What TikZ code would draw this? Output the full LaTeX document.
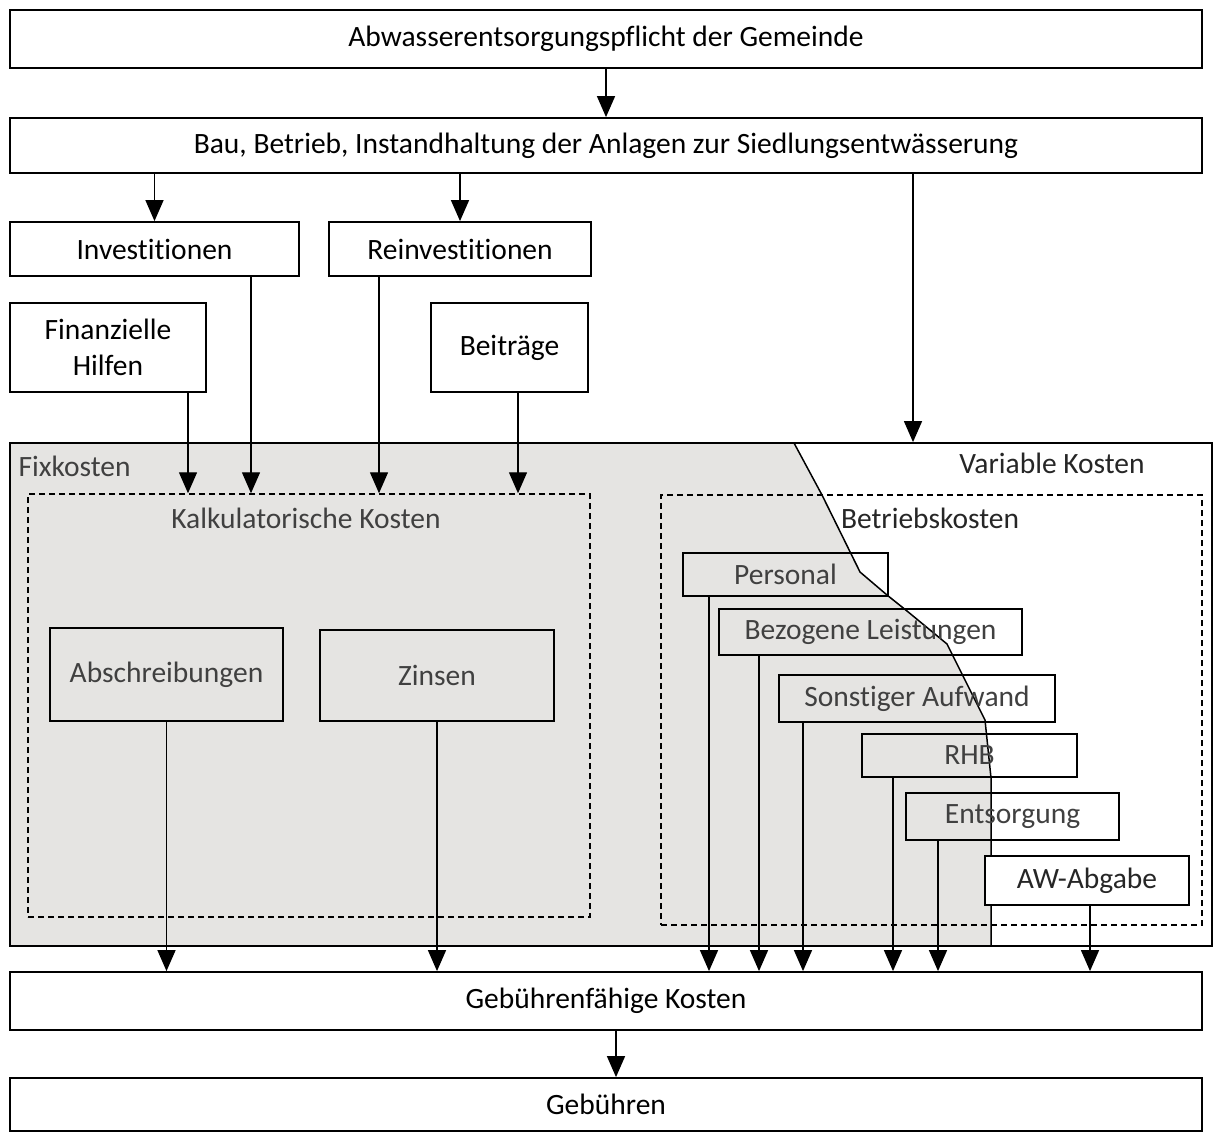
\documentclass[tikz,border=0pt]{standalone}
\usepackage{fontspec}
\setmainfont{Carlito}[RawFeature=-liga]
\usepackage{tikz}
\usetikzlibrary{positioning,arrows.meta}
\definecolor{fixgray}{RGB}{229, 228, 226}
\definecolor{textgray}{RGB}{64, 64, 64}
\tikzset{
    box/.style={rectangle, draw, line width=1.8pt, inner sep=0pt, align=center},
    wide box/.style={box, minimum width=1192pt},
    cost box/.style={box, text=textgray},
    group box/.style={rectangle, draw, dashed, line width=1.5pt, dash pattern=on 6pt off 4pt, inner sep=0pt},
    flow arrow/.style={-{Triangle[width=18pt,length=21pt]}, line width=1.4pt},
    group label/.style={text=textgray}
}

\begin{document}
\begin{tikzpicture}[x=1pt, y=-1pt, font=\fontsize{29.5}{36}\selectfont]
    \useasboundingbox (0,0) rectangle (1214,1133);

    % Obligation and construction
    \node[wide box, minimum height=58pt] (pflicht) at (606,39) {Abwasserentsorgungspflicht der Gemeinde};
    \node[wide box, minimum height=55pt] (bau) at (606,145.5) {Bau, Betrieb, Instandhaltung der Anlagen zur Siedlungsentwässerung};
    \draw[flow arrow] (pflicht) -- (bau);

    % Investments and funding
    \node[box, minimum width=289pt, minimum height=54pt] (invest) at (154.5,249) {Investitionen};
    \node[box, minimum width=262pt, minimum height=54pt] (reinvest) at (460,249) {Reinvestitionen};
    \node[box, minimum width=196pt, minimum height=89pt] (hilfen) at (108,347.5) {Finanzielle\\Hilfen};
    \node[box, minimum width=157pt, minimum height=89pt] (beitraege) at (509.5,347.5) {Beiträge};
    \draw[flow arrow] (bau.south -| invest.north) -- (invest.north);
    \draw[flow arrow] (bau.south -| reinvest.north) -- (reinvest.north);

    % Fixed cost area
    \fill[fixgray] (10,443) -- (794,443) -- (822,495) -- (860,572) -- (887,595) -- (907,611)
        -- (947,644) -- (985,720) -- (991,778) -- (991,946) -- (10,946) -- cycle;
    \draw[line width=1.5pt] (794,443) -- (822,495) -- (860,572) -- (887,595) -- (907,611)
        -- (947,644) -- (985,720) -- (991,778) -- (991,946);
    \node[box, minimum width=1202pt, minimum height=503pt] (kosten) at (611,694.5) {};
    \node[group label, anchor=west] (fix) at (15,466) {Fixkosten};
    \node[text=black!85] (variabel) at (1052,463) {Variable Kosten};
    \coordinate (varin) at (913,443);
    \draw[flow arrow] (bau.south -| varin) -- (kosten.north -| varin);

    % Imputed costs
    \node[group box, minimum width=562pt, minimum height=423pt] (kalk) at (309,705.5) {};
    \node[group label] (kalklabel) at (306,518) {Kalkulatorische Kosten};
    \node[cost box, minimum width=233pt, minimum height=93pt] (abschr) at (166.5,674.5) {Abschreibungen};
    \node[cost box, minimum width=234pt, minimum height=91pt] (zinsen) at (437,675.5) {Zinsen};
    \draw[flow arrow] ([xshift=80pt]hilfen.south) -- ([xshift=80pt]hilfen.south |- kalk.north);
    \draw[flow arrow] ([xshift=96.5pt]invest.south) -- ([xshift=96.5pt]invest.south |- kalk.north);
    \draw[flow arrow] ([xshift=-81pt]reinvest.south) -- ([xshift=-81pt]reinvest.south |- kalk.north);
    \draw[flow arrow] ([xshift=8.5pt]beitraege.south) -- ([xshift=8.5pt]beitraege.south |- kalk.north);

    % Operating costs
    \node[group box, minimum width=541pt, minimum height=430pt] (betrieb) at (931.5,710) {};
    \node[text=black!85] (betrieblabel) at (930,518) {Betriebskosten};
    \node[cost box, minimum width=205pt, minimum height=43pt] (personal) at (785.5,574.5) {Personal};
    \node[cost box, minimum width=303pt, minimum height=46pt] (bezogen) at (870.5,632) {Bezogene Leistungen};
    \node[cost box, minimum width=276pt, minimum height=47pt] (sonst) at (917,698.5) {Sonstiger Aufwand};
    \node[cost box, minimum width=215pt, minimum height=43pt] (rhb) at (969.5,755.5) {RHB};
    \node[cost box, minimum width=213pt, minimum height=47pt] (entsorg) at (1012.5,816.5) {Entsorgung};
    \node[box, fill=white, text=black!85, minimum width=204pt, minimum height=49pt] (awabg) at (1087,880.5) {AW-Abgabe};

    % Chargeable costs and fees
    \node[wide box, minimum height=58pt] (faehig) at (606,1001) {Gebührenfähige Kosten};
    \node[wide box, minimum height=53pt] (gebuehren) at (606,1104.5) {Gebühren};
    \draw[flow arrow] (abschr.south) -- (abschr.south |- faehig.north);
    \draw[flow arrow] (zinsen.south) -- (zinsen.south |- faehig.north);
    \draw[flow arrow] ([xshift=-76.5pt]personal.south) -- ([xshift=-76.5pt]personal.south |- faehig.north);
    \draw[flow arrow] ([xshift=-111.5pt]bezogen.south) -- ([xshift=-111.5pt]bezogen.south |- faehig.north);
    \draw[flow arrow] ([xshift=-114pt]sonst.south) -- ([xshift=-114pt]sonst.south |- faehig.north);
    \draw[flow arrow] ([xshift=-76.5pt]rhb.south) -- ([xshift=-76.5pt]rhb.south |- faehig.north);
    \draw[flow arrow] ([xshift=-74.5pt]entsorg.south) -- ([xshift=-74.5pt]entsorg.south |- faehig.north);
    \draw[flow arrow] ([xshift=3pt]awabg.south) -- ([xshift=3pt]awabg.south |- faehig.north);
    \draw[flow arrow] ([xshift=10pt]faehig.south) -- ([xshift=10pt]faehig.south |- gebuehren.north);
\end{tikzpicture}
\end{document}
